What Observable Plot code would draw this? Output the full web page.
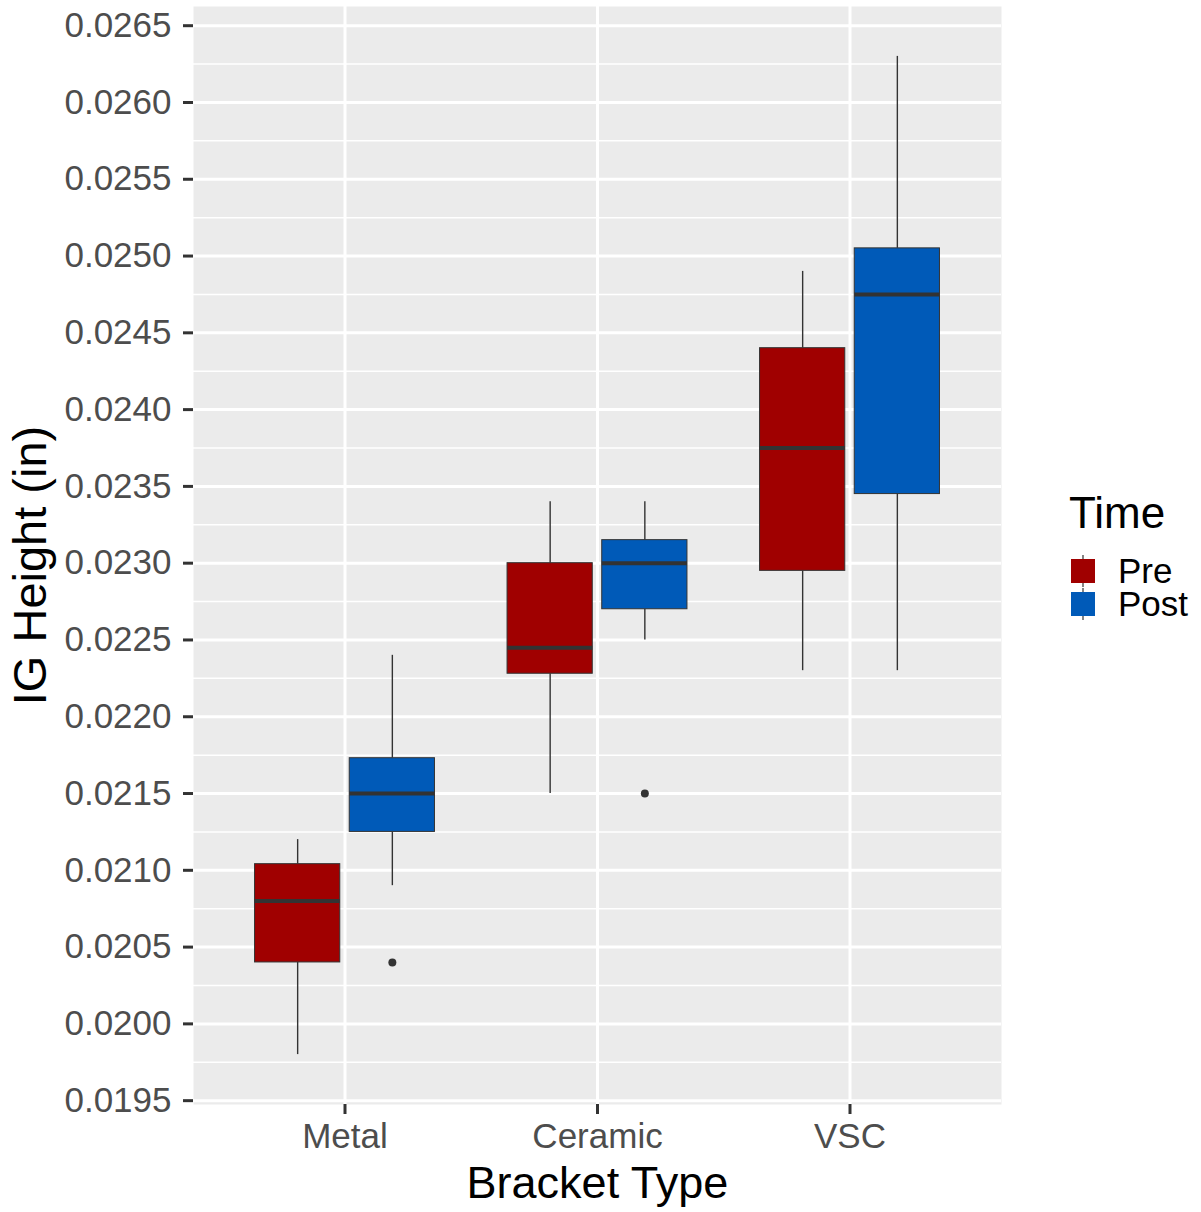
<!DOCTYPE html>
<html><head><meta charset="utf-8">
<script src="https://cdn.jsdelivr.net/npm/d3@7"></script>
<script src="https://cdn.jsdelivr.net/npm/@observablehq/plot@0.6"></script>
<style>
body{margin:0;background:#fff;}
#wrap{position:relative;width:1201px;height:1212px;font-family:"Liberation Sans",Arial,Helvetica,sans-serif;}
.lg{position:absolute;white-space:nowrap;}
</style></head><body><div id="wrap"></div>
<script>
// ---- data ----
const categories = ["Metal", "Ceramic", "VSC"];
const times = ["Pre", "Post"];
const timeColors = ["#A00000", "#005AB8"];

const groupCategory = ["Metal", "Metal", "Ceramic", "Ceramic", "VSC", "VSC"];
const groupTime     = ["Pre", "Post", "Pre", "Post", "Pre", "Post"];
const whiskerLow    = [0.0198, 0.0209, 0.0215, 0.0225, 0.0223, 0.0223];
const q1            = [0.0204, 0.02125, 0.02228, 0.0227, 0.02295, 0.02345];
const median        = [0.0208, 0.0215, 0.02245, 0.0230, 0.02375, 0.02475];
const q3            = [0.02104, 0.02173, 0.0230, 0.02315, 0.0244, 0.02505];
const whiskerHigh   = [0.0212, 0.0224, 0.0234, 0.0234, 0.0249, 0.0263];

const outlierCategory = ["Metal", "Ceramic"];
const outlierTime     = ["Post", "Post"];
const outlierValue    = [0.0204, 0.0215];

const yTicks = [0.0195, 0.0200, 0.0205, 0.0210, 0.0215, 0.0220, 0.0225, 0.0230,
                0.0235, 0.0240, 0.0245, 0.0250, 0.0255, 0.0260, 0.0265];
const yMinor = [0.01975, 0.02025, 0.02075, 0.02125, 0.02175, 0.02225, 0.02275,
                0.02325, 0.02375, 0.02425, 0.02475, 0.02525, 0.02575, 0.02625];

// ---- layout ----
const dodge = 0.1875, halfBox = 0.16875;
const posOf = (c, t) => categories.indexOf(c) + 1 + (t === times[0] ? -dodge : dodge);
const boxes = groupCategory.map((c, i) => ({
  category: c, time: groupTime[i], pos: posOf(c, groupTime[i]),
  lo: whiskerLow[i], q1: q1[i], med: median[i], q3: q3[i], hi: whiskerHigh[i]
}));
const outliers = outlierValue.map((v, i) => ({pos: posOf(outlierCategory[i], outlierTime[i]), value: v}));

const FONT = '"Liberation Sans",Arial,Helvetica,sans-serif';
const plot = Plot.plot({
  width: 1201, height: 1212,
  marginLeft: 193, marginRight: 200, marginTop: 6, marginBottom: 108,
  style: {fontFamily: FONT, background: "transparent", overflow: "visible"},
  x: {type: "linear", domain: [0.4, 3.6]},
  y: {domain: [0.019475, 0.026625]},
  color: {domain: times, range: timeColors},
  marks: [
    Plot.frame({fill: "#EBEBEB", stroke: null}),
    Plot.ruleY(yMinor, {stroke: "white", strokeWidth: 1.5}),
    Plot.ruleY(yTicks, {stroke: "white", strokeWidth: 3}),
    Plot.ruleX([1, 2, 3], {stroke: "white", strokeWidth: 3}),
    Plot.ruleX(boxes, {x: "pos", y1: "lo", y2: "q1", stroke: "#333333", strokeWidth: 1.4}),
    Plot.ruleX(boxes, {x: "pos", y1: "q3", y2: "hi", stroke: "#333333", strokeWidth: 1.4}),
    Plot.rect(boxes, {x1: d => d.pos - halfBox, x2: d => d.pos + halfBox, y1: "q1", y2: "q3",
      fill: "time", stroke: "#333333", strokeWidth: 1}),
    Plot.ruleY(boxes, {y: "med", x1: d => d.pos - halfBox, x2: d => d.pos + halfBox,
      stroke: "#333333", strokeWidth: 4}),
    Plot.dot(outliers, {x: "pos", y: "value", r: 4, fill: "#333333", stroke: null}),
    Plot.axisY({ticks: yTicks, tickFormat: d3.format(".4f"), fontSize: 35, tickSize: 10,
      tickPadding: 12, stroke: "#333333", fill: "#4D4D4D", strokeWidth: 3, label: null}),
    Plot.axisX({ticks: [1, 2, 3], tickFormat: d => categories[d - 1], fontSize: 35, tickSize: 10,
      tickPadding: 9, stroke: "#333333", fill: "#4D4D4D", strokeWidth: 3, label: null}),
    Plot.text(["IG Height (in)"], {text: d => d, frameAnchor: "left", textAnchor: "middle",
      lineAnchor: "middle", rotate: -90, dx: -163, dy: 10, fontSize: 47, fill: "black"}),
    Plot.text(["Bracket Type"], {text: d => d, frameAnchor: "bottom", textAnchor: "middle",
      lineAnchor: "middle", dy: 79, fontSize: 45, fill: "black"})
  ]
});
const wrap = document.getElementById("wrap");
wrap.appendChild(plot);

// ---- legend ----
const title = document.createElement("div");
title.className = "lg";
title.style.cssText = "left:1069px;top:494px;font-size:44px;line-height:38px;color:#000;";
title.textContent = "Time";
wrap.appendChild(title);
times.forEach((t, i) => {
  const cy = 571 + i * 32.5;
  const key = document.createElementNS("http://www.w3.org/2000/svg", "svg");
  key.setAttribute("width", 26); key.setAttribute("height", 32);
  key.style.cssText = `position:absolute;left:1070px;top:${cy - 16}px;`;
  key.innerHTML = `<line x1="13" x2="13" y1="0" y2="32" stroke="#333" stroke-width="1.2"/>
    <rect x="1.5" y="4.5" width="23" height="23" fill="${timeColors[i]}" stroke="${timeColors[i]}" stroke-width="1"/>`;
  wrap.appendChild(key);
  const lab = document.createElement("div");
  lab.className = "lg";
  lab.style.cssText = `left:1118px;top:${cy - 14.6}px;font-size:35px;line-height:30px;color:#000;`;
  lab.textContent = t;
  wrap.appendChild(lab);
});
</script></body></html>
